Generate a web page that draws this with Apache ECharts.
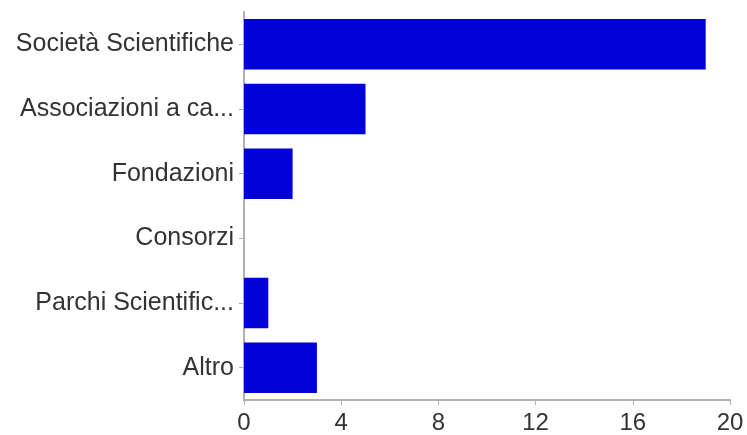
<!DOCTYPE html>
<html>
<head>
<meta charset="utf-8">
<script src="https://cdn.jsdelivr.net/npm/echarts@6/dist/echarts.min.js"></script>
<style>html,body{margin:0;padding:0;background:#fff}#c{width:747px;height:435px}</style>
</head>
<body>
<div id="c"></div>
<script>
const categories = ["Società Scientifiche", "Associazioni a ca...", "Fondazioni", "Consorzi", "Parchi Scientific...", "Altro"];
const values = [19, 5, 2, 0, 1, 3];
const xTicks = [0, 4, 8, 12, 16, 20];

const chart = echarts.init(document.getElementById('c'), null, {renderer: 'canvas'});
chart.setOption({
  animation: false,
  backgroundColor: '#ffffff',
  grid: {left: 244, right: 17, top: 12, bottom: 33, containLabel: false},
  xAxis: {
    type: 'value',
    min: xTicks[0], max: xTicks[xTicks.length - 1], interval: 4,
    axisLine: {show: true, lineStyle: {color: '#b0b0b0', width: 2}},
    axisTick: {show: true, length: 5, lineStyle: {color: '#b0b0b0', width: 1}},
    splitLine: {show: false},
    axisLabel: {fontFamily: 'Liberation Sans', fontSize: 24, color: '#333', margin: 11}
  },
  yAxis: {
    type: 'category',
    inverse: true,
    data: categories,
    axisLine: {show: true, lineStyle: {color: '#b0b0b0', width: 2}},
    axisTick: {show: true, alignWithLabel: true, length: 5, lineStyle: {color: '#b0b0b0', width: 1}},
    axisLabel: {fontFamily: 'Liberation Sans', fontSize: 25, color: '#333', margin: 10}
  },
  series: [{
    type: 'bar',
    data: values,
    barCategoryGap: '22%',
    itemStyle: {color: '#0000d8'}
  }]
});
</script>
</body>
</html>
